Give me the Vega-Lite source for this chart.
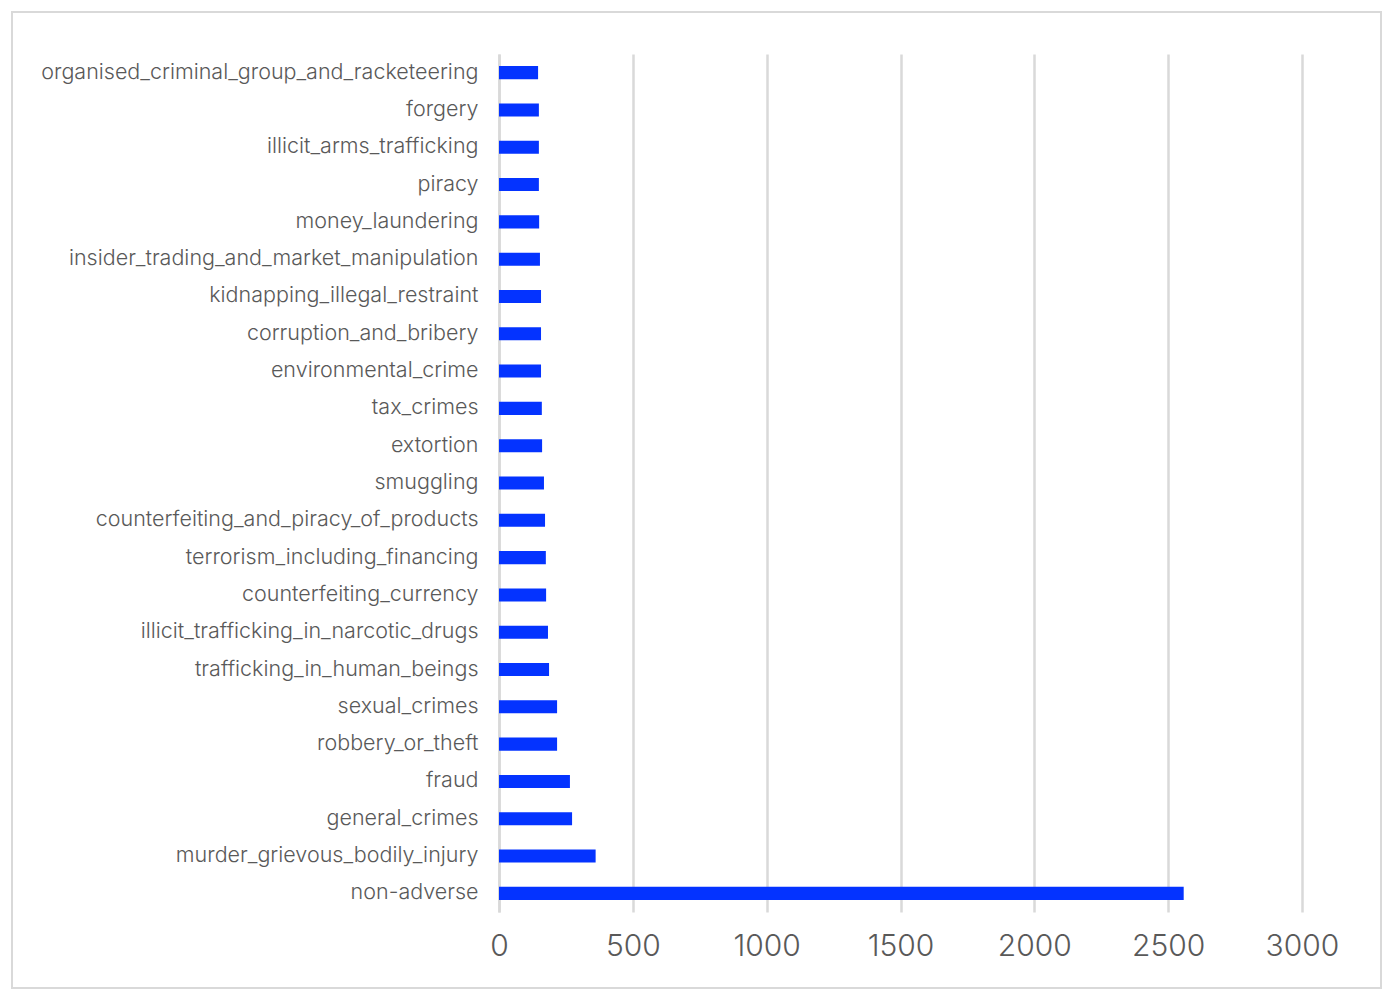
{
  "$schema": "https://vega.github.io/schema/vega-lite/v6.json",
  "autosize": "none",
  "width": 1369,
  "height": 976,
  "padding": {"left": 12, "top": 12, "right": 17, "bottom": 16},
  "background": "white",
  "config": {
    "view": {"stroke": "#d9d9d9", "strokeWidth": 2},
    "font": "Inter"
  },
  "data": {
    "values": [
      {"category": "organised_criminal_group_and_racketeering", "count": 146},
      {"category": "forgery", "count": 149},
      {"category": "illicit_arms_trafficking", "count": 149},
      {"category": "piracy", "count": 149},
      {"category": "money_laundering", "count": 150},
      {"category": "insider_trading_and_market_manipulation", "count": 153},
      {"category": "kidnapping_illegal_restraint", "count": 157},
      {"category": "corruption_and_bribery", "count": 157},
      {"category": "environmental_crime", "count": 157},
      {"category": "tax_crimes", "count": 160},
      {"category": "extortion", "count": 161},
      {"category": "smuggling", "count": 168},
      {"category": "counterfeiting_and_piracy_of_products", "count": 172},
      {"category": "terrorism_including_financing", "count": 175},
      {"category": "counterfeiting_currency", "count": 176},
      {"category": "illicit_trafficking_in_narcotic_drugs", "count": 183},
      {"category": "trafficking_in_human_beings", "count": 187},
      {"category": "sexual_crimes", "count": 217},
      {"category": "robbery_or_theft", "count": 217},
      {"category": "fraud", "count": 265},
      {"category": "general_crimes", "count": 273},
      {"category": "murder_grievous_bodily_injury", "count": 361},
      {"category": "non-adverse", "count": 2558}
    ]
  },
  "resolve": {"axis": {"x": "independent", "y": "independent"}},
  "layer": [
    {
      "mark": {"type": "bar", "color": "#0433ff"},
      "encoding": {
        "y": {
          "field": "category", "type": "nominal", "sort": null, "title": null,
          "scale": {"range": [42, 900], "paddingInner": 0.65, "paddingOuter": 0.325},
          "axis": {
            "orient": "left", "offset": -487, "ticks": false, "tickSize": 0,
            "domainColor": "#d9d9d9", "domainWidth": 2.5,
            "labelFontSize": 21.5, "labelFontWeight": 300, "labelColor": "#595959",
            "labelPadding": 21, "labelLimit": 600
          }
        },
        "x": {
          "field": "count", "type": "quantitative", "title": null,
          "scale": {"domain": [0, 3000], "range": [487, 1290], "nice": false},
          "axis": {
            "orient": "top", "grid": true, "gridColor": "#d9d9d9", "gridWidth": 2.5,
            "labels": false, "ticks": false, "domain": false, "values": [0, 500, 1000, 1500, 2000, 2500, 3000]
          }
        }
      }
    },
    {
      "mark": {"type": "bar", "opacity": 0},
      "encoding": {
        "y": {"field": "category", "type": "nominal", "sort": null, "axis": null},
        "x": {
          "field": "count", "type": "quantitative", "title": null,
          "axis": {
            "orient": "bottom", "offset": -77, "grid": false, "ticks": false, "tickSize": 0,
            "domain": false, "labelFontSize": 30, "labelFontWeight": 300,
            "labelColor": "#595959", "labelPadding": 20, "labelFlush": false,
            "labelAlign": "center", "format": "d",
            "values": [0, 500, 1000, 1500, 2000, 2500, 3000]
          }
        }
      }
    }
  ]
}
